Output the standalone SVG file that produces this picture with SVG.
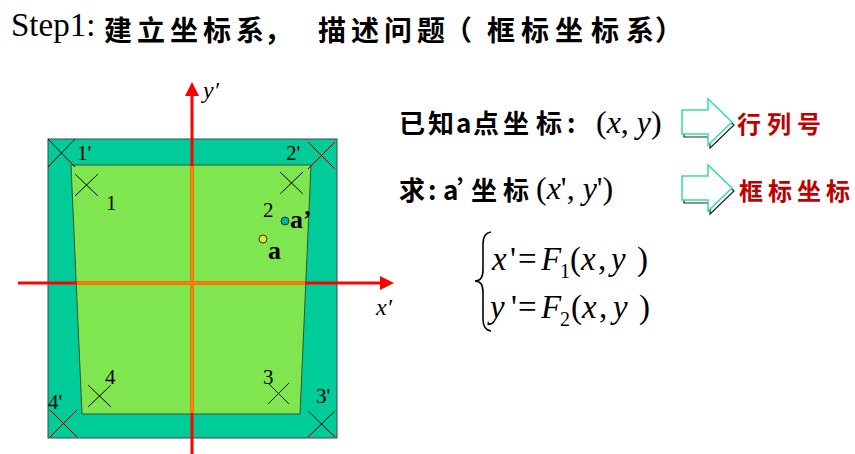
<svg xmlns="http://www.w3.org/2000/svg" width="855" height="454" viewBox="0 0 855 454">
<style>
.ser{font-family:"Liberation Serif","Times New Roman",serif;fill:#000}
.it{font-style:italic}
.cjk{font-family:"Noto Sans CJK SC","Noto Sans",sans-serif;fill:#000;font-weight:bold}
.red{font-family:"Noto Sans CJK SC","Noto Sans",sans-serif;fill:#c00000;font-weight:bold}
.x{stroke:#000;stroke-width:1;fill:none}
.axis{stroke:#ff0000;stroke-width:3;fill:none}
.axin{stroke:#ff8000;stroke-width:3;fill:none}
.blk{fill:#fff;stroke:#33e0a0;stroke-width:1.5}
.shd{fill:none;stroke:#222;stroke-width:1.2}
</style>
<rect width="855" height="454" fill="#fff"/>

<g id="title">
<text class="ser" x="11" y="36" font-size="33">Step1:</text>
<text class="cjk" y="41" font-size="28" x="104 137 170 203 236 264 318 351 384 417 444 487 521 555 591 626 655">建立坐标系，描述问题（框标坐标系）</text>
</g>

<g id="frame">
<rect x="48" y="139" width="289" height="299" fill="#00cc99" stroke="#444" stroke-width="1"/>
<polygon points="71,165 311,165 300,414 82,414" fill="#80e650" stroke="#335533" stroke-width="1"/>
</g>

<g id="axes">
<line class="axis" x1="192" y1="95" x2="192" y2="454"/>
<line class="axis" x1="18" y1="283" x2="381" y2="283"/>
<line class="axin" x1="192" y1="166" x2="192" y2="413"/>
<line class="axin" x1="77" y1="283" x2="305" y2="283"/>
<polygon points="192,82 185,96 199,96" fill="#ff0000"/>
<polygon points="394,283 380,276 380,290" fill="#ff0000"/>
<text class="ser it" x="203" y="98" font-size="24">y′</text>
<text class="ser it" x="376" y="315" font-size="24">x′</text>
</g>

<g id="corner-marks">
<path class="x" d="M48,139 L75,167 M75,139 L48,167"/>
<path class="x" d="M308,142 L335,169 M335,142 L308,169"/>
<path class="x" d="M50,410 L77,437 M77,410 L50,437"/>
<path class="x" d="M308,411 L335,437 M335,411 L308,437"/>
<path class="x" d="M75,174 L98,196 M98,174 L75,196"/>
<path class="x" d="M280,172 L303,194 M303,172 L280,194"/>
<path class="x" d="M88,385 L111,407 M111,385 L88,407"/>
<path class="x" d="M268,383 L289,404 M289,383 L268,404"/>
</g>

<g id="corner-labels" font-size="21">
<text class="ser" x="77" y="160">1'</text>
<text class="ser" x="286" y="160">2'</text>
<text class="ser" x="106" y="210">1</text>
<text class="ser" x="263" y="217">2</text>
<text class="ser" x="105" y="384">4</text>
<text class="ser" x="263" y="384">3</text>
<text class="ser" x="48" y="409">4'</text>
<text class="ser" x="316" y="403">3'</text>
</g>

<g id="points">
<circle cx="285" cy="221" r="4" fill="#00b0a0" stroke="#333" stroke-width="1"/>
<circle cx="263" cy="239" r="4" fill="#e0e820" stroke="#333" stroke-width="1"/>
<text class="ser" x="290" y="228" font-size="26" font-weight="bold">a’</text>
<text class="ser" x="268" y="259" font-size="26" font-weight="bold">a</text>
</g>

<g id="known">
<text class="cjk" y="133" font-size="26" x="399 428 456 473 503 536 567">已知a点坐标:</text>
<text class="ser" y="133" font-size="32" x="596">(<tspan class="it">x</tspan>, <tspan class="it">y</tspan>)</text>
</g>

<g id="seek">
<text class="cjk" y="200" font-size="26" x="399 428 443 457 471 503">求:a’坐标</text>
<text class="ser" y="199" font-size="32" x="536">(<tspan class="it">x</tspan>', <tspan class="it">y</tspan>')</text>
</g>

<g id="arrow1">
<polygon class="shd" points="684,113 710,113 710,102 734,125 710,148 710,137 684,137"/>
<polygon class="blk" points="682,110 708,110 708,99 732,122 708,145 708,134 682,134"/>
<text class="red" x="737" y="133" font-size="24" letter-spacing="6">行列号</text>
</g>

<g id="arrow2">
<polygon class="shd" points="684,179 710,179 710,168 734,191 710,214 710,203 684,203"/>
<polygon class="blk" points="682,176 708,176 708,165 732,188 708,211 708,200 682,200"/>
<text class="red" x="739" y="200" font-size="24" letter-spacing="5">框标坐标</text>
</g>

<g id="equations">
<path d="M491,232 Q483,233 483,244 L483,270 Q483,281 475,281 Q483,281 483,292 L483,319 Q483,330 491,331" fill="none" stroke="#000" stroke-width="1.6"/>
<text class="ser" y="270" font-size="33"><tspan class="it" x="492">x</tspan><tspan x="510">'</tspan><tspan x="518">=</tspan><tspan class="it" x="541">F</tspan><tspan x="560" y="278" font-size="20">1</tspan><tspan x="570" y="270">(</tspan><tspan class="it" x="581">x</tspan><tspan x="598">,</tspan><tspan class="it" x="611">y</tspan><tspan x="637">)</tspan></text>
<text class="ser" y="318" font-size="33"><tspan class="it" x="490">y</tspan><tspan x="511">'</tspan><tspan x="518">=</tspan><tspan class="it" x="541">F</tspan><tspan x="560" y="326" font-size="20">2</tspan><tspan x="571" y="318">(</tspan><tspan class="it" x="582">x</tspan><tspan x="599">,</tspan><tspan class="it" x="613">y</tspan><tspan x="639">)</tspan></text>
</g>
</svg>
